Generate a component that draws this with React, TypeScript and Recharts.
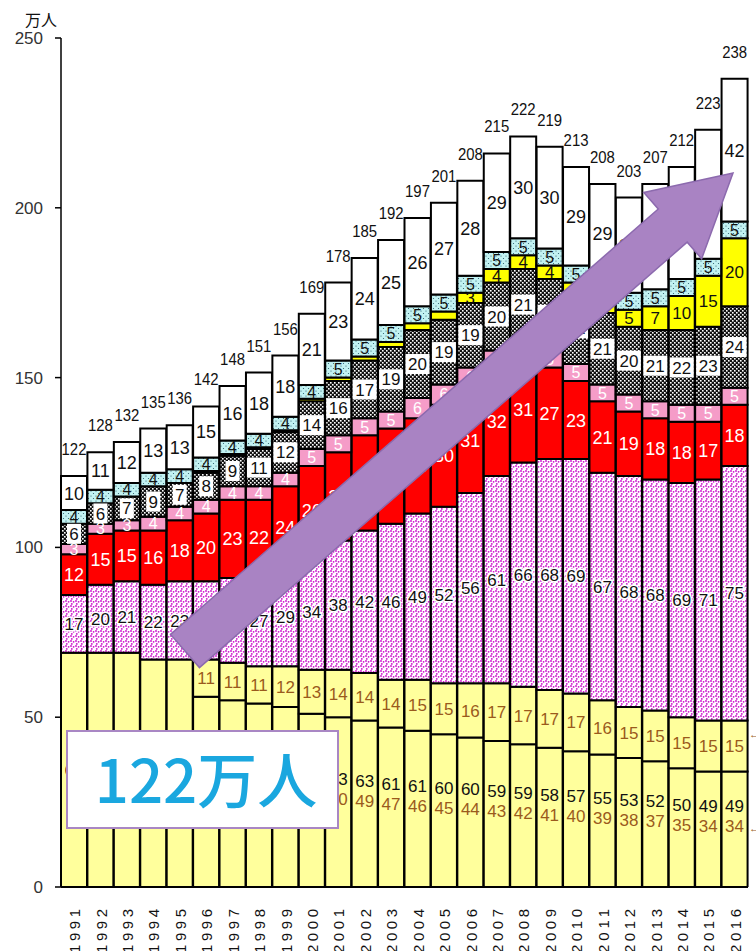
import React from 'react';
import { BarChart, Bar, XAxis, YAxis, LabelList } from 'recharts';

// 年
const years = [
  '1991', '1992', '1993', '1994', '1995', '1996', '1997', '1998', '1999', '2000',
  '2001', '2002', '2003', '2004', '2005', '2006', '2007', '2008', '2009', '2010',
  '2011', '2012', '2013', '2014', '2015', '2016',
];
// 合計 (bar top labels)
const totals = [122, 128, 132, 135, 136, 142, 148, 151, 156, 169, 178, 185, 192, 197, 201, 208, 215, 222, 219, 213, 208, 203, 207, 212, 223, 238];

// segments, bottom to top
const paleLower = [69, 69, 69, 67, 67, 56, 55, 54, 53, 51, 50, 49, 47, 46, 45, 44, 43, 42, 41, 40, 39, 38, 37, 35, 34, 34];
const paleUpper = [0, 0, 0, 0, 0, 11, 11, 11, 12, 13, 14, 14, 14, 15, 15, 16, 17, 17, 17, 17, 16, 15, 15, 15, 15, 15];
const paleSumLabels = [69, 69, 69, 67, 67, 67, 66, 65, 65, 64, 63, 63, 61, 61, 60, 60, 59, 59, 58, 57, 55, 53, 52, 50, 49, 49];
const magenta = [17, 20, 21, 22, 23, 23, 25, 27, 29, 34, 38, 42, 46, 49, 52, 56, 61, 66, 68, 69, 67, 68, 68, 69, 71, 75];
const red = [12, 15, 15, 16, 18, 20, 23, 22, 24, 26, 26, 28, 28, 28, 30, 31, 32, 31, 27, 23, 21, 19, 18, 18, 17, 18];
const pink = [3, 3, 3, 4, 4, 4, 4, 4, 4, 5, 5, 5, 5, 6, 6, 6, 5, 5, 5, 5, 5, 5, 5, 5, 5, 5];
const checkered = [6, 6, 7, 9, 7, 8, 9, 11, 12, 14, 16, 17, 19, 20, 19, 19, 20, 21, 21, 21, 21, 20, 21, 22, 23, 24];
const yellow = [0, 0, 0, 0, 0, 0.5, 0.5, 0.5, 0.5, 0.8, 1, 1.2, 1.5, 2, 2.5, 3, 4, 4, 4, 3, 4, 5, 7, 10, 15, 20];
const lightBlue = [4, 4, 4, 4, 4, 4, 4, 4, 4, 4, 5, 5, 5, 5, 5, 5, 5, 5, 5, 5, 5, 5, 5, 5, 5, 5];
const white = [10, 11, 12, 13, 13, 15, 16, 18, 18, 21, 23, 24, 25, 26, 27, 28, 29, 30, 30, 29, 29, 28, 31, 33, 38, 42];

const yTicks = [0, 50, 100, 150, 200, 250];

const data = years.map((year, i) => ({
  year,
  a: paleLower[i],
  b: paleUpper[i],
  c: magenta[i],
  d: red[i],
  e: pink[i],
  f: checkered[i],
  g: yellow[i],
  h: lightBlue[i],
  w: white[i],
}));

const FONT = "'Liberation Sans', Arial, sans-serif";
const BROWN = '#9a5a1c';

const segLabel = (color: string, opts: { min?: number; halo?: string; box?: boolean; size?: number } = {}) =>
  (props: any) => {
    const { x, y, width, height, value, index } = props;
    if (value == null || value < (opts.min ?? 0)) return null;
    const cx = x + width / 2;
    const cy = y + height / 2;
    const size = opts.size ?? 17;
    const txt = String(Math.round(value));
    return (
      <g key={`l-${index}`}>
        {opts.box && (
          <rect x={cx - txt.length * 5 - 2} y={cy - 10} width={txt.length * 10 + 4} height={20} fill="#fff" />
        )}
        <text
          x={cx}
          y={cy}
          dy="0.36em"
          textAnchor="middle"
          fontFamily={FONT}
          fontSize={size}
          fill={color}
          stroke={opts.halo}
          strokeWidth={opts.halo ? 3 : 0}
          paintOrder="stroke"
        >
          {txt}
        </text>
      </g>
    );
  };

const lowerLabel = (props: any) => {
  const { x, y, width, height, value, index } = props;
  const cx = x + width / 2;
  const cy = y + height / 2;
  if (!paleUpper[index]) {
    return (
      <text key={`a-${index}`} x={cx} y={cy} dy="0.36em" textAnchor="middle" fontFamily={FONT} fontSize={17} fill="#111">
        {paleSumLabels[index]}
      </text>
    );
  }
  return (
    <g key={`a-${index}`}>
      <text x={cx} y={cy - 23} dy="0.36em" textAnchor="middle" fontFamily={FONT} fontSize={17} fill="#111">
        {paleSumLabels[index]}
      </text>
      <text x={cx} y={cy - 3} dy="0.36em" textAnchor="middle" fontFamily={FONT} fontSize={17} fill={BROWN}>
        {value}
      </text>
    </g>
  );
};

const totalLabel = (props: any) => {
  const { x, y, width, index } = props;
  const txt = String(totals[index]);
  return (
    <text
      key={`t-${index}`}
      x={x + width / 2}
      y={y - 21}
      textAnchor="middle"
      fontFamily={FONT}
      fontSize={17}
      fill="#111"
      textLength={txt.length * 8.3}
      lengthAdjust="spacingAndGlyphs"
    >
      {txt}
    </text>
  );
};

const YearTick = (props: any) => {
  const { x, y, payload } = props;
  const px = x + 6;
  const py = y + 14;
  return (
    <text
      x={px}
      y={py}
      transform={`rotate(-90, ${px}, ${py})`}
      textAnchor="end"
      fontFamily={FONT}
      fontSize={15}
      textLength={44}
      lengthAdjust="spacing"
      fill="#111"
    >
      {payload.value}
    </text>
  );
};

// arrow overlay geometry
const tail = [185, 651];
const tip = [733, 173];
const arrowPoints = () => {
  const dx = tip[0] - tail[0];
  const dy = tip[1] - tail[1];
  const len = Math.hypot(dx, dy);
  const ux = dx / len, uy = dy / len;
  const nx = -uy, ny = ux;
  const hb = [tip[0] - ux * 80, tip[1] - uy * 80];
  const p = (b: number[], s: number) => `${b[0] + nx * s},${b[1] + ny * s}`;
  return [p(tail, -22), p(hb, -22), p(hb, -44), `${tip[0]},${tip[1]}`, p(hb, 44), p(hb, 22), p(tail, 22)].join(' ');
};

export default function App() {
  const stroke = { stroke: '#000', strokeWidth: 2 };
  return (
    <div style={{ position: 'absolute', left: 0, top: 0, width: 756, height: 951, background: '#fff' }}>
      <BarChart width={756} height={951} data={data} margin={{ top: 38, right: 8, left: 0, bottom: 0 }} barCategoryGap={0}>
        <defs>
          <pattern id="dotsMagenta" width="5" height="5" patternUnits="userSpaceOnUse">
            <rect width="5" height="5" fill="#fff" />
            <circle cx="1" cy="1" r="0.9" fill="#cc11cc" />
            <circle cx="3.6" cy="1.8" r="0.9" fill="#cc11cc" />
            <circle cx="1.8" cy="3.9" r="0.9" fill="#cc11cc" />
          </pattern>
          <pattern id="dotsBlue" width="5" height="5" patternUnits="userSpaceOnUse">
            <rect width="5" height="5" fill="#c2f2f2" />
            <circle cx="1" cy="1" r="0.6" fill="#2a5a6a" />
            <circle cx="3.5" cy="3.5" r="0.6" fill="#2a5a6a" />
          </pattern>
          <pattern id="checker" width="4" height="4" patternUnits="userSpaceOnUse">
            <rect width="4" height="4" fill="#111" />
            <rect x="0" y="0" width="1.6" height="1.6" fill="#fff" />
            <rect x="2" y="2" width="1.6" height="1.6" fill="#fff" />
          </pattern>
        </defs>
        <XAxis
          dataKey="year"
          height={64}
          interval={0}
          tickLine={false}
          axisLine={{ stroke: '#000', strokeWidth: 2 }}
          tick={<YearTick />}
        />
        <YAxis
          width={61}
          domain={[0, 250]}
          ticks={yTicks}
          allowDataOverflow
          tickSize={6}
          tickMargin={12}
          tickLine={{ stroke: '#000', strokeWidth: 1.5 }}
          axisLine={{ stroke: '#000', strokeWidth: 1.5 }}
          tick={{ fill: '#333', fontSize: 17, fontFamily: FONT }}
        />
        <Bar dataKey="a" stackId="s" fill="#ffff9c" {...stroke} isAnimationActive={false}>
          <LabelList dataKey="a" content={lowerLabel} />
        </Bar>
        <Bar dataKey="b" stackId="s" fill="#ffff9c" {...stroke} isAnimationActive={false}>
          <LabelList dataKey="b" content={segLabel(BROWN, { min: 1 })} />
        </Bar>
        <Bar dataKey="c" stackId="s" fill="url(#dotsMagenta)" {...stroke} isAnimationActive={false}>
          <LabelList dataKey="c" content={segLabel('#111', { halo: '#fff' })} />
        </Bar>
        <Bar dataKey="d" stackId="s" fill="#ff0000" {...stroke} isAnimationActive={false}>
          <LabelList dataKey="d" content={segLabel('#fff', { size: 18 })} />
        </Bar>
        <Bar dataKey="e" stackId="s" fill="#f59cc8" {...stroke} isAnimationActive={false}>
          <LabelList dataKey="e" content={segLabel('#fff', { size: 16 })} />
        </Bar>
        <Bar dataKey="f" stackId="s" fill="url(#checker)" {...stroke} isAnimationActive={false}>
          <LabelList dataKey="f" content={segLabel('#111', { box: true })} />
        </Bar>
        <Bar dataKey="g" stackId="s" fill="#ffff00" {...stroke} isAnimationActive={false}>
          <LabelList dataKey="g" content={segLabel('#111', { min: 3 })} />
        </Bar>
        <Bar dataKey="h" stackId="s" fill="url(#dotsBlue)" {...stroke} isAnimationActive={false}>
          <LabelList dataKey="h" content={segLabel('#111', { size: 16 })} />
        </Bar>
        <Bar dataKey="w" stackId="s" fill="#fff" {...stroke} isAnimationActive={false}>
          <LabelList dataKey="w" content={segLabel('#111', { size: 18 })} />
          <LabelList dataKey="w" content={totalLabel} />
        </Bar>
      </BarChart>
      <svg width={756} height={951} style={{ position: 'absolute', left: 0, top: 0, pointerEvents: 'none' }}>
        <text x={41} y={26} textAnchor="middle" fontFamily="'Noto Sans CJK JP', sans-serif" fontSize={16} fill="#111">
          万人
        </text>
        <text x={749} y={738} fontFamily={FONT} fontSize={11} fill={BROWN}>←</text>
        <text x={749} y={832} fontFamily={FONT} fontSize={11} fill={BROWN}>←</text>
        <polygon points={arrowPoints()} fill="#a983c3" stroke="#8c6aae" strokeWidth={1.5} />
        <rect x={67} y={731} width={271} height={97} fill="#fff" stroke="#a987c4" strokeWidth={2} />
        <text
          x={206}
          y={803}
          textAnchor="middle"
          fontFamily="'Noto Sans CJK JP', 'Noto Sans', sans-serif"
          fontWeight={500}
          fontSize={60}
          fill="#1aa7df"
        >
          122万人
        </text>
      </svg>
    </div>
  );
}
